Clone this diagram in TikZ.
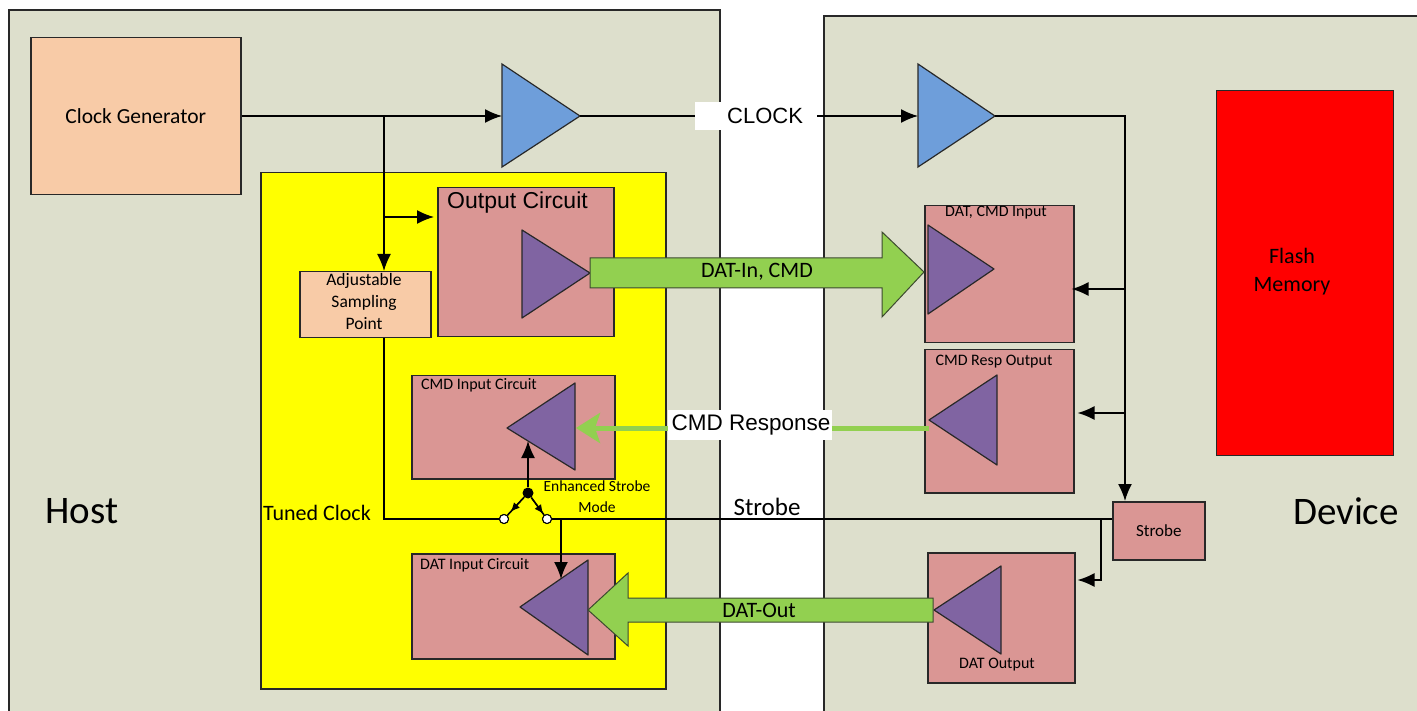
\documentclass[tikz,border=0pt]{standalone}
\usepackage{fontspec}
\setmainfont{Carlito}
\newfontfamily\arialf{Liberation Sans}
\usetikzlibrary{arrows.meta,calc}
\definecolor{panelc}{RGB}{221,223,204}
\definecolor{peachc}{RGB}{248,203,167}
\definecolor{pinkc}{RGB}{218,150,148}
\definecolor{purplec}{RGB}{128,100,162}
\definecolor{bluec}{RGB}{110,158,218}
\definecolor{greenc}{RGB}{146,208,80}
\definecolor{yelc}{RGB}{255,255,0}
\definecolor{redc}{RGB}{255,0,0}
\definecolor{edgec}{RGB}{40,40,40}
\newcommand\fsz[2]{\fontsize{#1}{#2}\selectfont}
\begin{document}
\begin{tikzpicture}[x=1pt,y=-1pt,
  panel/.style={draw=edgec,fill=panelc,line width=2pt,inner sep=0,anchor=north west},
  rbox/.style={draw=edgec,line width=1.5pt,inner sep=0,anchor=north west},
  pbox/.style={rbox,fill=pinkc},
  tri/.style={draw=edgec,fill=purplec,line width=1.2pt,line join=round},
  btri/.style={draw=edgec,fill=bluec,line width=1.2pt},
  conn/.style={draw=black,line width=1.6pt},
  arr/.style={conn,-{Latex[length=17pt,width=14pt]}},
  sarr/.style={conn,line width=1.2pt,-{Latex[length=9pt,width=8pt]}},
  garrow/.style={draw=edgec!80!greenc,fill=greenc,line width=1pt,line join=miter},
  gline/.style={draw=greenc,line width=5pt,-{Stealth[length=24pt,width=30pt,inset=5pt]}},
  contact/.style={circle,draw=black,fill=white,line width=1pt,minimum size=9pt,inner sep=0},
  dotn/.style={circle,fill=black,minimum size=11pt,inner sep=0},
  smalltxt/.style={font=\fsz{16}{19},inner sep=0},
  midtxt/.style={font=\fsz{22}{28},inner sep=0},
  wlabel/.style={fill=white,inner sep=0,anchor=west}
]
\useasboundingbox (0,0) rectangle (1417,711);
\clip (0,0) rectangle (1417,711);
\fill[white] (0,0) rectangle (1417,711);

% panels
\node[panel,minimum width=711,minimum height=730] (host) at (8,9) {};
\node[panel,minimum width=620,minimum height=730] (dev) at (823,15) {};
\node[font=\fsz{39}{47},inner sep=0] (hostlbl) at (82,511) {Host};
\node[font=\fsz{39}{47},inner sep=0] (devlbl) at (1346,511) {Device};

% clock generator
\node[rbox,fill=peachc,minimum width=210,minimum height=157,font=\fsz{21.5}{26}] (clk) at (30,37) {Clock Generator};

% yellow tuning area
\node[rbox,fill=yelc,minimum width=405,minimum height=516] (tune) at (260,172) {};

% flash memory
\node[rbox,fill=redc,minimum width=177,minimum height=365,line width=1pt] (flash) at (1216,90) {};
\node[midtxt,align=center,font=\fsz{22}{28}] (flashlbl) at (1292,272) {Flash\\Memory};

% blue clock buffers
\draw[btri] (502,64) -- (580,116) -- (502,167) -- cycle;
\coordinate (hbufIn) at (502,116);
\coordinate (hbufOut) at (580,116);
\draw[btri] (918,64) -- (995,116) -- (918,167) -- cycle;
\coordinate (dbufIn) at (918,116);
\coordinate (dbufOut) at (995,116);

% adjustable sampling point
\node[rbox,fill=peachc,minimum width=131,minimum height=66] (asp) at (299,271) {};
\node[font=\fsz{17.5}{22},align=center,inner sep=0] (asplbl) at (364,301) {Adjustable\\Sampling\\Point};

% output circuit
\node[pbox,minimum width=176,minimum height=149] (outc) at (437,187) {};
\node[font=\arialf\fsz{23}{27},anchor=west,inner sep=0] (outclbl) at (447,203) {Output Circuit};
\draw[tri] (522,230) -- (590,273) -- (522,318) -- cycle;
\coordinate (outTip) at (590,273);

% CMD input circuit
\node[pbox,minimum width=203,minimum height=103] (cmdin) at (411,375) {};
\node[smalltxt,anchor=west] (cmdinlbl) at (421,385) {CMD Input Circuit};
\draw[tri] (575,383) -- (507,428) -- (575,470) -- cycle;
\coordinate (cmdInR) at (576,428);
\coordinate (cmdInB) at (528,441);

% DAT input circuit
\node[pbox,minimum width=203,minimum height=105] (datin) at (411,553) {};
\node[smalltxt,anchor=west] (datinlbl) at (420,565) {DAT Input Circuit};
\draw[tri] (588,560) -- (520,607) -- (588,655) -- cycle;
\coordinate (datInTop) at (561,579);

% device boxes
\node[pbox,minimum width=149,minimum height=137] (dcin) at (924,205) {};
\node[smalltxt] (dcinlbl) at (996,213) {DAT, CMD Input};
\draw[tri] (928,225) -- (994,269) -- (928,314) -- cycle;

\node[pbox,minimum width=149,minimum height=143] (cresp) at (924,349) {};
\node[smalltxt] (cresplbl) at (994,362) {CMD Resp Output};
\draw[tri] (997,375) -- (929,420) -- (997,465) -- cycle;
\coordinate (crespOut) at (929,428);

\node[pbox,minimum width=147,minimum height=130] (dout) at (927,552) {};
\node[smalltxt] (doutlbl) at (997,665) {DAT Output};
\draw[tri] (1001,566) -- (934,610) -- (1001,654) -- cycle;

\node[pbox,minimum width=92,minimum height=58,font=\fsz{17}{20}] (strb) at (1112,501) {Strobe};

% clock connectors
\coordinate (hclk) at (384,116);
\coordinate (hbr) at (384,217);
\coordinate (devclk) at (1125,116);
\coordinate (dbr1) at (1125,289);
\coordinate (dbr2) at (1125,413);
\draw[arr] (clk.east |- hbufIn) -- (hbufIn);
\draw[arr] (hbufOut) -- (dbufIn);
\draw[arr] (dbufOut) -- (devclk) -- (devclk |- strb.north);
\draw[arr] (dbr1) -- ([xshift=-3pt]dbr1 -| dcin.east);
\draw[arr] (dbr2) -- ([xshift=3pt]dbr2 -| cresp.east);
\draw[arr] (hclk) -- (hclk |- asp.north);
\draw[arr] (hbr) -- ([xshift=-3pt]hbr -| outc.west);

% switch
\node[contact] (swL) at (504,519) {};
\node[contact] (swR) at (547,519) {};
\node[dotn] (swD) at (528,493) {};
\draw[conn] (hclk |- asp.south) -- (384,519) -- (swL.west);
\draw[conn] (swD) -- (swL);
\draw[conn] (swD) -- (swR);
\draw[sarr] (swD) -- ($(swD)!0.72!(swL)$);
\draw[sarr] (swD) -- ($(swD)!0.8!(swR)$);
\node[contact] at (swL) {};
\node[contact] at (swR) {};
\draw[arr] (swD) -- (cmdInB);
\coordinate (strbJ) at (1101,519);
\coordinate (datJ) at (561,519);
\draw[conn] (swR.east) -- (swR -| strb.west);
\draw[arr] (datJ) -- (datInTop);
\draw[arr] (strbJ) -- (1101,580) -- ([xshift=2pt]dout.east |- 1101,580);
\node[font=\fsz{15.5}{21},align=center,inner sep=0] (esm) at (597,497) {Enhanced Strobe\\Mode};
\node[font=\fsz{22}{26},anchor=west,inner sep=0] (tclbl) at (263,513) {Tuned Clock};
\node[font=\fsz{25}{30},inner sep=0] (strblbl) at (767,507) {Strobe};

% CLOCK label
\node[wlabel,minimum width=122,minimum height=28] (clkbox) at (695,116) {};
\node[font=\arialf\fsz{22}{26},anchor=west,inner sep=0] (clklbl) at (727,116) {CLOCK};

% DAT-In, CMD block arrow
\draw[garrow] (outTip |- 0,258) -- (882,258) -- (882,232) -- (924,272) -- (882,317) -- (882,288) -- (outTip |- 0,288) -- cycle;
\node[midtxt] (datinarr) at (757,272) {DAT-In, CMD};

% CMD response
\draw[gline] (crespOut) -- (cmdInR);
\node[fill=white,minimum width=164,minimum height=30,inner sep=0] (crbox) at (750,425) {};
\node[font=\arialf\fsz{22.5}{26},inner sep=0] (crlbl) at (751,425) {CMD Response};

% DAT-Out block arrow
\draw[garrow] (933,598) -- (628,598) -- (628,573) -- (588,610) -- (628,646) -- (628,622) -- (933,622) -- cycle;
\node[midtxt] (datoutarr) at (759,610) {DAT-Out};
\end{tikzpicture}
\end{document}
